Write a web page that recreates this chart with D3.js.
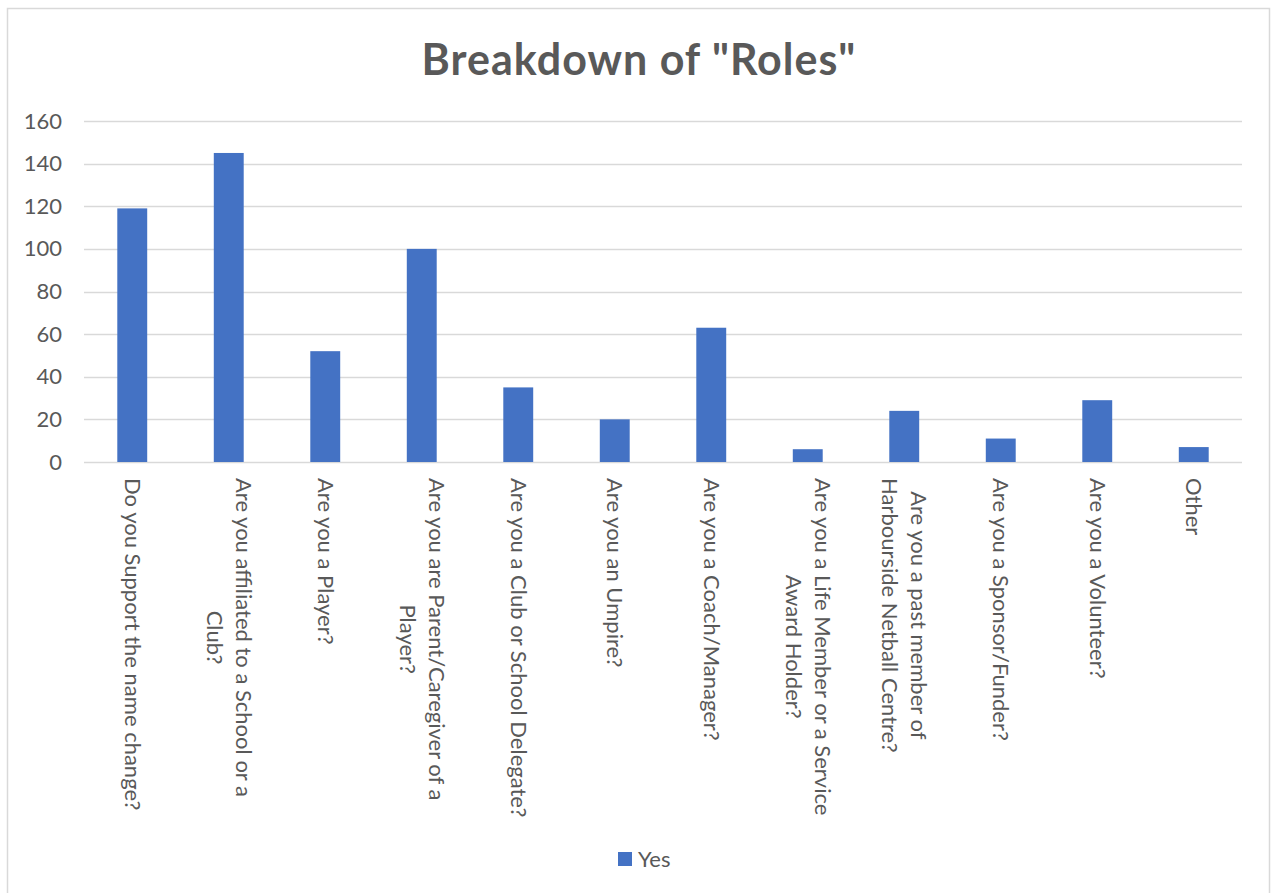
<!DOCTYPE html>
<html>
<head>
<meta charset="utf-8">
<script src="https://cdn.jsdelivr.net/npm/d3@7"></script>
<style>
  html, body { margin: 0; padding: 0; background: #fff; }
  svg { display: block; font-family: Lato, "Open Sans", sans-serif; }
</style>
</head>
<body>
<svg></svg>
<script>
const width = 1272;
const height = 893;

// -----------------------------
// DATA
// -----------------------------
const categories = [
  "Do you Support the name change?",
  "Are you affiliated to a School or a\nClub?",
  "Are you a Player?",
  "Are you are Parent/Caregiver of a\nPlayer?",
  "Are you a Club or School Delegate?",
  "Are you an Umpire?",
  "Are you a Coach/Manager?",
  "Are you a Life Member or a Service\nAward Holder?",
  "Are you a past member of\nHarbourside Netball Centre?",
  "Are you a Sponsor/Funder?",
  "Are you a Volunteer?",
  "Other"
];
const yesValues = [119, 145, 52, 100, 35, 20, 63, 6, 24, 11, 29, 7];
const yTicks = [0, 20, 40, 60, 80, 100, 120, 140, 160];
const seriesName = "Yes";
const chartTitle = 'Breakdown of "Roles"';

const barColor = "#4472C4";
const textColor = "#595959";
const gridColor = "#d9d9d9";

const svg = d3.select("svg")
  .attr("width", width)
  .attr("height", height);

// -----------------------------
// FRAME
// -----------------------------
svg.append("rect")
  .attr("x", 7.5)
  .attr("y", 8.5)
  .attr("width", 1262)
  .attr("height", 890)
  .attr("fill", "#fff")
  .attr("stroke", gridColor)
  .attr("stroke-width", 1.5);

// -----------------------------
// TITLE
// -----------------------------
svg.append("text")
  .attr("x", 639)
  .attr("y", 75)
  .attr("text-anchor", "middle")
  .attr("font-size", 43)
  .attr("font-weight", "bold")
  .attr("letter-spacing", 1)
  .attr("fill", textColor)
  .text(chartTitle);

// -----------------------------
// SCALES
// -----------------------------
const x = d3.scaleBand()
  .domain(d3.range(categories.length))
  .range([84, 1242])
  .paddingInner(0.69)
  .paddingOuter(0.345);

const y = d3.scaleLinear()
  .domain([0, 160])
  .range([462, 121]);

// -----------------------------
// GRID + Y AXIS
// -----------------------------
const grid = svg.append("g");
grid.selectAll("line")
  .data(yTicks)
  .join("line")
  .attr("x1", 84)
  .attr("x2", 1242)
  .attr("y1", d => Math.round(y(d)) + 0.5)
  .attr("y2", d => Math.round(y(d)) + 0.5)
  .attr("stroke", gridColor)
  .attr("stroke-width", 1.5);

const yAxis = svg.append("g")
  .attr("transform", "translate(62,0)")
  .call(d3.axisLeft(y).tickValues(yTicks).tickSize(0).tickPadding(0));
yAxis.select(".domain").remove();
yAxis.selectAll("text")
  .attr("font-size", 22)
  .attr("font-family", "Lato, 'Open Sans', sans-serif")
  .attr("fill", textColor);

// -----------------------------
// BARS
// -----------------------------
svg.append("g")
  .selectAll("rect")
  .data(yesValues)
  .join("rect")
  .attr("x", (d, i) => x(i))
  .attr("y", d => y(d))
  .attr("width", x.bandwidth())
  .attr("height", d => y(0) - y(d))
  .attr("fill", barColor);

// -----------------------------
// CATEGORY LABELS (rotated)
// -----------------------------
const lineH = 29;
const labelFont = 22;

const labels = svg.append("g")
  .selectAll("g")
  .data(categories)
  .join("g")
  .attr("transform", (d, i) => `translate(${x(i) + x.bandwidth() / 2},478) rotate(90)`);

labels.each(function(d) {
  const g = d3.select(this);
  const lines = d.split("\n");
  const t = g.append("text")
    .attr("font-size", labelFont)
    .attr("fill", textColor)
    .attr("text-anchor", "middle");
  const spans = t.selectAll("tspan")
    .data(lines)
    .join("tspan")
    .attr("y", (l, j) => (j - (lines.length - 1) / 2) * lineH)
    .attr("dy", "0.35em")
    .text(l => l);
  let maxW = 0;
  spans.each(function() { maxW = Math.max(maxW, this.getComputedTextLength()); });
  spans.attr("x", maxW / 2);
});

// -----------------------------
// LEGEND
// -----------------------------
const legend = svg.append("g").attr("transform", "translate(618,852)");
legend.append("rect")
  .attr("width", 14)
  .attr("height", 14)
  .attr("fill", barColor);
legend.append("text")
  .attr("x", 20)
  .attr("y", 7)
  .attr("dy", "0.35em")
  .attr("font-size", 22)
  .attr("fill", textColor)
  .text(seriesName);
</script>
</body>
</html>
